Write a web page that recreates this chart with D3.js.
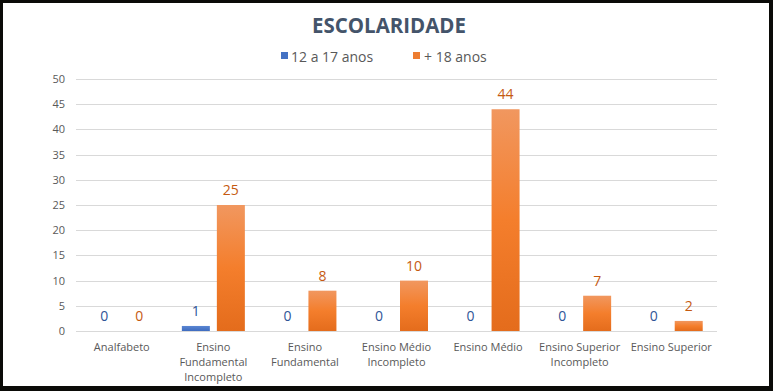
<!DOCTYPE html>
<html><head><meta charset="utf-8">
<script src="https://cdn.jsdelivr.net/npm/d3@7"></script>
<style>
html,body{margin:0;padding:0;background:#0b0b08;}
svg{display:block;}
text{font-family:"Open Sans","Noto Sans",sans-serif;}
</style></head>
<body>
<svg id="chart" width="773" height="391"></svg>
<script>
const categories = [
  ["Analfabeto"],
  ["Ensino", "Fundamental", "Incompleto"],
  ["Ensino", "Fundamental"],
  ["Ensino Médio", "Incompleto"],
  ["Ensino Médio"],
  ["Ensino Superior", "Incompleto"],
  ["Ensino Superior"]
];
const seriesNames = ["12 a 17 anos", "+ 18 anos"];
const teen = [0, 1, 0, 0, 0, 0, 0];
const adult = [0, 25, 8, 10, 44, 7, 2];
const yTicks = [0, 5, 10, 15, 20, 25, 30, 35, 40, 45, 50];
const title = "ESCOLARIDADE";

(function () {
const svg = d3.select("#chart");
svg.append("rect").attr("x",3).attr("y",3).attr("width",766).attr("height",383).attr("fill","#fff");

const defs = svg.append("defs");
const g1 = defs.append("linearGradient").attr("id","orangeGrad").attr("x1",0).attr("y1",0).attr("x2",0).attr("y2",1);
g1.append("stop").attr("offset","0%").attr("stop-color","#F1975F");
g1.append("stop").attr("offset","50%").attr("stop-color","#F47E2C");
g1.append("stop").attr("offset","100%").attr("stop-color","#E46C1C");
const g2 = defs.append("linearGradient").attr("id","blueGrad").attr("x1",0).attr("y1",0).attr("x2",0).attr("y2",1);
g2.append("stop").attr("offset","0%").attr("stop-color","#5A86D2");
g2.append("stop").attr("offset","100%").attr("stop-color","#3F6CC0");

const pLeft = 76, pRight = 717, pTop = 79, pBottom = 331;
const x = d3.scaleBand().domain(d3.range(categories.length)).range([pLeft, pRight]);
const y = d3.scaleLinear().domain([0, 50]).range([pBottom, pTop]);
const barW = 28, gap = 7;

svg.append("g").selectAll("line").data(yTicks).join("line")
  .attr("x1", pLeft).attr("x2", pRight)
  .attr("y1", d => Math.round(y(d)) + 0.5).attr("y2", d => Math.round(y(d)) + 0.5)
  .attr("stroke", "#D9D9D9").attr("stroke-width", 1);

const yAxis = d3.axisLeft(y).tickValues(yTicks).tickSize(0).tickPadding(0);
const ya = svg.append("g").attr("transform", `translate(65,0)`).call(yAxis);
ya.select(".domain").remove();
ya.selectAll("text").attr("fill", "#595959").style("font-size", "11px").attr("font-family", "Open Sans, sans-serif");

const series = [
  {name: seriesNames[0], values: teen, fill: "url(#blueGrad)", legend: "#4472C4", label: "#2F5597", off: -(barW + gap) / 2},
  {name: seriesNames[1], values: adult, fill: "url(#orangeGrad)", legend: "#ED7D31", label: "#C55A11", off: (barW + gap) / 2}
];

series.forEach(s => {
  const gs = svg.append("g");
  gs.selectAll("rect").data(s.values).join("rect")
    .attr("x", (d, i) => x(i) + x.bandwidth() / 2 + s.off - barW / 2)
    .attr("y", d => y(d))
    .attr("width", barW)
    .attr("height", d => y(0) - y(d))
    .attr("fill", s.fill);
  gs.selectAll("text").data(s.values).join("text")
    .attr("x", (d, i) => x(i) + x.bandwidth() / 2 + s.off)
    .attr("y", d => y(d) - 10)
    .attr("text-anchor", "middle")
    .attr("fill", s.label)
    .style("font-size", "14px")
    .text(d => d);
});

const xl = svg.append("g");
categories.forEach((lines, i) => {
  const t = xl.append("text")
    .attr("x", x(i) + x.bandwidth() / 2)
    .attr("y", 351)
    .attr("text-anchor", "middle")
    .attr("fill", "#595959")
    .style("font-size", "11px");
  lines.forEach((ln, j) => t.append("tspan").attr("x", x(i) + x.bandwidth() / 2).attr("y", 351 + j * 15).text(ln));
});

svg.append("text").attr("x", 389).attr("y", 33).attr("text-anchor", "middle")
  .attr("fill", "#44546A").style("font-size", "21px").style("font-weight", "bold")
  .attr("textLength", 154).attr("lengthAdjust", "spacingAndGlyphs")
  .text(title);

const legendPos = [{sx: 281, tx: 291}, {sx: 413, tx: 424}];
series.forEach((s, i) => {
  svg.append("rect").attr("x", legendPos[i].sx).attr("y", 52).attr("width", 7).attr("height", 7).attr("fill", s.legend);
  svg.append("text").attr("x", legendPos[i].tx).attr("y", 62).attr("fill", "#595959")
    .style("font-size", "14px").text(s.name);
});
})();
</script>
</body></html>
